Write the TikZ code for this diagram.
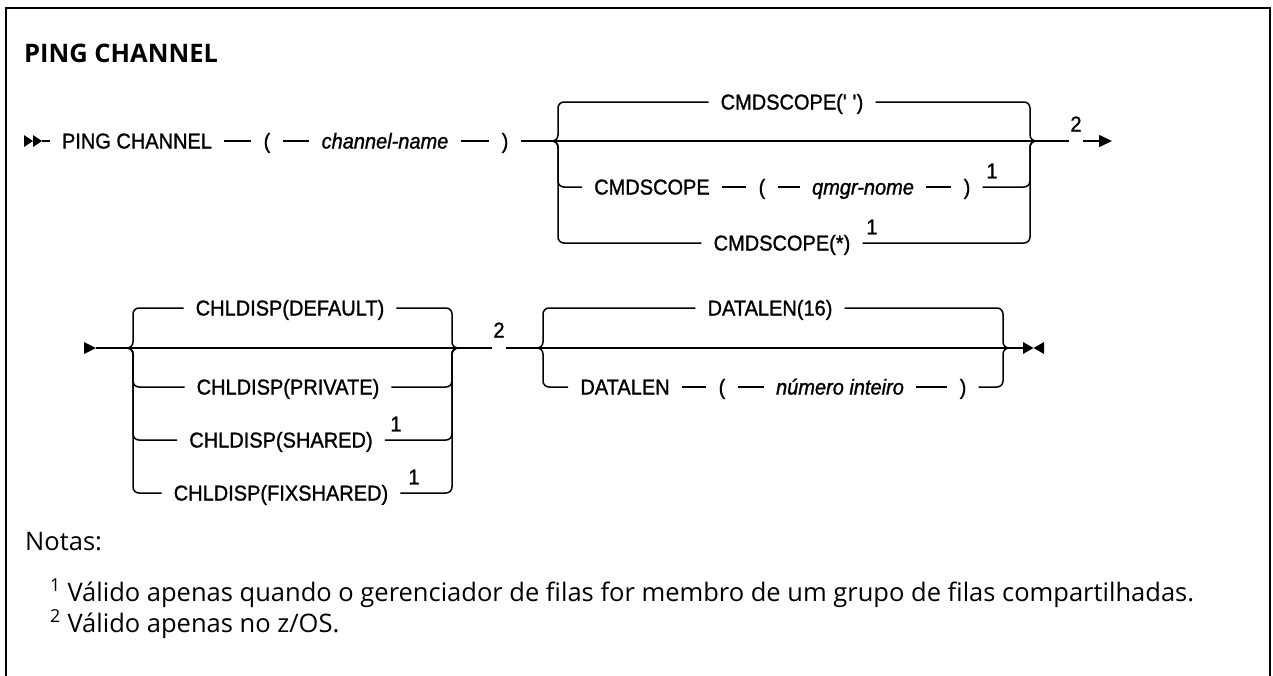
\documentclass[tikz,border=0pt]{standalone}
\usepackage{fontspec}
\setmainfont{Open Sans}
\newfontfamily\railfont[FakeStretch=0.93,FakeBold=1.2]{Liberation Sans}
\usetikzlibrary{arrows.meta}

\begin{document}
\begin{tikzpicture}[x=1pt,y=-1pt,
	every node/.style={inner sep=0pt},
	rail/.style={line width=1.5pt},
	branch/.style={rail, rounded corners=6pt},
	kw/.style={font=\railfont\fontsize{21.5}{25}\selectfont, text height=15pt, text depth=0pt, inner xsep=12pt, inner ysep=0pt},
	var/.style={kw, font=\railfont\itshape\fontsize{21.5}{25}\selectfont},
	sup/.style={font=\railfont\fontsize{21.5}{25}\selectfont, inner sep=1pt},
	note/.style={font=\fontsize{25.5}{30}\selectfont, anchor=base west}]
	\useasboundingbox (0,0) rectangle (1273,675);
	\draw[line width=2pt] (6,676) -- (6,8) -- (1270,8) -- (1270,676);
	\node[anchor=base west, font=\bfseries\fontsize{25.5}{30}\selectfont] (title) at (24,62) {PING CHANNEL};

	% first line
	\fill (24,135) -- (33,141) -- (24,147) -- cycle;
	\fill (33,135) -- (42,141) -- (33,147) -- cycle;
	\coordinate (entA) at (42,141);
	\node[kw] (ping) at (137,141) {PING CHANNEL};
	\node[kw] (lpa) at (267,141) {(};
	\node[var] (chan) at (385,141) {channel-name};
	\node[kw] (rpa) at (505,141) {)};
	\coordinate (aL) at (551,141);
	\coordinate (aR) at (1037,141);
	\node[kw] (scblank) at (792,102) {CMDSCOPE(\textquotesingle{} \textquotesingle)};
	\node[kw] (scq) at (652,187) {CMDSCOPE};
	\node[kw] (lpq) at (762,187) {(};
	\node[var] (qmgr) at (863,187) {qmgr-nome};
	\node[kw] (rpq) at (967,187) {)};
	\node[sup] (fq) at (992,171) {1};
	\node[kw] (scs) at (782,243) {CMDSCOPE(*)};
	\node[sup] (fs) at (872,227) {1};
	\node[sup] (n2a) at (1076,124) {2};
	\coordinate (exA) at (1112,141);

	\draw[rail] (entA) -- (ping);
	\draw[rail] (ping) -- (lpa);
	\draw[rail] (lpa) -- (chan);
	\draw[rail] (chan) -- (rpa);
	\draw[rail] (rpa) -- (aL) -- (aR) -- (n2a.west |- aR);
	\draw[rail, -{Triangle[length=13pt,width=12pt]}] (n2a.east |- aR) -- (exA);
	\draw[branch] (aL) -- (558,141) -- (558,102) -- (scblank);
	\draw[branch] (scblank) -- (1030,102) -- (1030,141) -- (aR);
	\draw[branch] (aL) -- (558,141) -- (558,187) -- (scq);
	\draw[rail] (scq) -- (lpq);
	\draw[rail] (lpq) -- (qmgr);
	\draw[rail] (qmgr) -- (rpq);
	\draw[branch] (rpq) -- (1030,187) -- (1030,141) -- (aR);
	\draw[branch] (aL) -- (558,141) -- (558,243) -- (scs);
	\draw[branch] (scs) -- (1030,243) -- (1030,141) -- (aR);

	% second line
	\fill (84,342) -- (96,348) -- (84,354) -- cycle;
	\coordinate (entB) at (96,348);
	\coordinate (bL) at (127,348);
	\coordinate (bR) at (462,348);
	\node[kw] (dflt) at (290,308) {CHLDISP(DEFAULT)};
	\node[kw] (priv) at (288,387) {CHLDISP(PRIVATE)};
	\node[kw] (shrd) at (281,440) {CHLDISP(SHARED)};
	\node[sup] (fsh) at (396,424) {1};
	\node[kw] (fixs) at (281,493) {CHLDISP(FIXSHARED)};
	\node[sup] (ffx) at (414,477) {1};
	\node[sup] (n2b) at (499,330) {2};
	\coordinate (cL) at (533,348);
	\coordinate (cR) at (1012,348);
	\node[kw] (dl16) at (770,308) {DATALEN(16)};
	\node[kw] (dlen) at (625,387) {DATALEN};
	\node[kw] (lpd) at (722,387) {(};
	\node[var] (numi) at (840,387) {número inteiro};
	\node[kw] (rpd) at (963,387) {)};
	\coordinate (endC) at (1023,348);
	\fill (1023,342) -- (1033.5,348) -- (1023,354) -- cycle;
	\fill (1044,342) -- (1033.5,348) -- (1044,354) -- cycle;

	\draw[rail] (entB) -- (bL) -- (bR) -- (n2b.west |- bR);
	\draw[rail] (n2b.east |- bR) -- (cL) -- (cR) -- (endC);
	\draw[branch] (bL) -- (133,348) -- (133,308) -- (dflt);
	\draw[branch] (dflt) -- (452,308) -- (452,348) -- (bR);
	\draw[branch] (bL) -- (133,348) -- (133,387) -- (priv);
	\draw[branch] (priv) -- (452,387) -- (452,348) -- (bR);
	\draw[branch] (bL) -- (133,348) -- (133,440) -- (shrd);
	\draw[branch] (shrd) -- (452,440) -- (452,348) -- (bR);
	\draw[branch] (bL) -- (133,348) -- (133,493) -- (fixs);
	\draw[branch] (fixs) -- (452,493) -- (452,348) -- (bR);
	\draw[branch] (cL) -- (543,348) -- (543,308) -- (dl16);
	\draw[branch] (dl16) -- (1003,308) -- (1003,348) -- (cR);
	\draw[branch] (cL) -- (543,348) -- (543,387) -- (dlen);
	\draw[rail] (dlen) -- (lpd);
	\draw[rail] (lpd) -- (numi);
	\draw[rail] (numi) -- (rpd);
	\draw[branch] (rpd) -- (1003,387) -- (1003,348) -- (cR);

	% notes
	\node[note] (notas) at (25,550) {Notas:};
	\node[note] (nota1) at (50,601) {\textsuperscript{1} Válido apenas quando o gerenciador de filas for membro de um grupo de filas compartilhadas.};
	\node[note] (nota2) at (50,632) {\textsuperscript{2} Válido apenas no z/OS.};
\end{tikzpicture}
\end{document}
